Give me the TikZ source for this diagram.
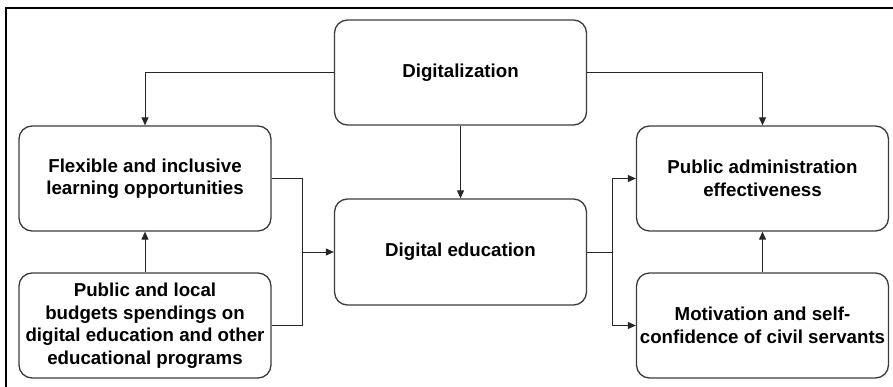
\documentclass[tikz,border=0pt]{standalone}
\usepackage{fontspec}
\setmainfont{Liberation Sans}
\usetikzlibrary{arrows.meta}
\definecolor{boxline}{HTML}{3C3C3C}
\definecolor{wire}{HTML}{262626}
\tikzset{
  block/.style={draw=boxline, line width=1.3pt, rounded corners=13pt, fill=white,
    minimum width=252pt, minimum height=105pt, align=center, inner sep=2pt,
    font=\fontsize{18.7}{22.5}\selectfont\bfseries},
  arr/.style={draw=wire, line width=1pt, -{Triangle[length=8pt,width=7pt]}},
  wireline/.style={draw=wire, line width=1pt},
  frame/.style={draw=black, line width=2pt}
}
\begin{document}
\begin{tikzpicture}[x=1pt,y=-1pt]
\useasboundingbox (0,0) rectangle (893,387);
% outer frame, open to the right and bottom
\draw[frame] (893,8) -- (6,8) -- (6,387);

% boxes
\node[block] (dig) at (460.5,72.5) {Digitalization};
\node[block] (flex) at (145,178.5) {Flexible and inclusive\\learning opportunities};
\node[block] (bud) at (145,325.5) {Public and local\\budgets spendings on\\digital education and other\\educational programs};
\node[block, minimum height=106pt] (ded) at (460.5,252) {Digital education};
\node[block] (pae) at (762.5,178.5) {Public administration\\effectiveness};
\node[block] (mot) at (762.5,325.5) {Motivation and self-\\confidence of civil servants};

% junction points of the merged connectors
\coordinate (jl) at (302,252);
\coordinate (jr) at (612,252);

% connectors
\draw[arr] (dig.west) -| (flex.north);
\draw[arr] (dig.east) -| (pae.north);
\draw[arr] (dig.south) -- (ded.north);
\draw[arr] (bud.north) -- (flex.south);
\draw[wireline] (flex.east) -| (jl);
\draw[wireline] (bud.east) -| (jl);
\draw[arr] (jl) -- (ded.west);
\draw[wireline] (ded.east) -- (jr);
\draw[arr] (jr) |- (pae.west);
\draw[arr] (jr) |- (mot.west);
\draw[arr] (mot.north) -- (pae.south);
\end{tikzpicture}
\end{document}
